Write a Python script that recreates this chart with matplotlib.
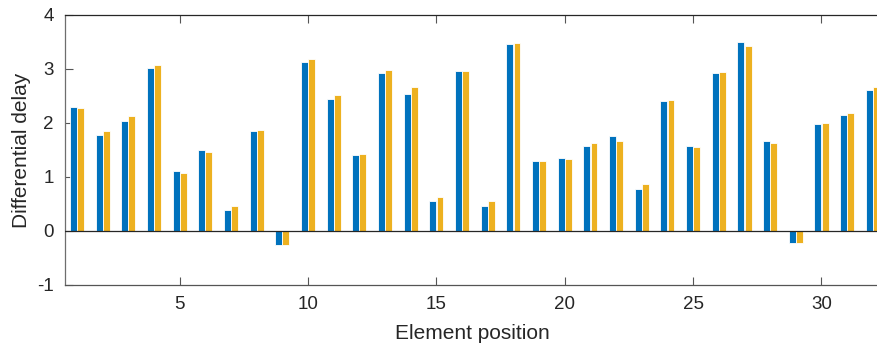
import numpy as np
import matplotlib
matplotlib.use("Agg")
import matplotlib.pyplot as plt

# differential delay per element, two measurement runs
positions = np.arange(1, 33)
delay_a = [2.30, 1.77, 2.03, 3.02, 1.11, 1.50, 0.38, 1.85, -0.26, 3.12,
           2.44, 1.40, 2.92, 2.54, 0.56, 2.96, 0.46, 3.46, 1.30, 1.35,
           1.58, 1.75, 0.78, 2.41, 1.58, 2.92, 3.50, 1.66, -0.22, 1.98,
           2.14, 2.61]
delay_b = [2.28, 1.85, 2.13, 3.08, 1.07, 1.47, 0.47, 1.86, -0.26, 3.18,
           2.51, 1.43, 2.97, 2.67, 0.63, 2.96, 0.55, 3.48, 1.30, 1.33,
           1.63, 1.66, 0.87, 2.42, 1.56, 2.95, 3.42, 1.63, -0.23, 1.99,
           2.19, 2.67]
xticks = [5, 10, 15, 20, 25, 30]
yticks = [-1, 0, 1, 2, 3, 4]

plt.rcParams['font.family'] = ['Liberation Sans', 'DejaVu Sans']
plt.rcParams['axes.unicode_minus'] = False
axcol = '#262626'

fig = plt.figure(figsize=(8.77, 3.45), dpi=100)
ax = fig.add_axes([0.074, 0.174, 0.93, 0.783])

w = 0.27
ax.bar(positions - 0.14, delay_a, width=w, color='#0072BD', edgecolor='white', linewidth=0.6, zorder=2)
ax.bar(positions + 0.14, delay_b, width=w, color='#EDB120', edgecolor='white', linewidth=0.6, zorder=2)
ax.axhline(0, color=axcol, linewidth=0.9, zorder=3)

ax.set_xlim(0.53, 32.3)
ax.set_ylim(-1, 4)
ax.set_xticks(xticks)
ax.set_yticks(yticks)
ax.tick_params(direction='in', length=6, width=0.8, colors='#555555', labelcolor=axcol,
               labelsize=13.5, top=True, right=False)
ax.tick_params(axis='x', pad=8)
ax.tick_params(axis='y', pad=8)
ax.spines['top'].set_color(axcol)
ax.spines['left'].set_color('#6e6e6e')
ax.spines['bottom'].set_color('#555555')
for s in ['left', 'bottom', 'top']:
    ax.spines[s].set_linewidth(0.9)
ax.spines['right'].set_visible(False)

ax.set_xlabel('Element position', fontsize=15, color=axcol, labelpad=8)
ax.set_ylabel('Differential delay', fontsize=15, color=axcol, labelpad=4)

fig.savefig('out.png', dpi=100)
